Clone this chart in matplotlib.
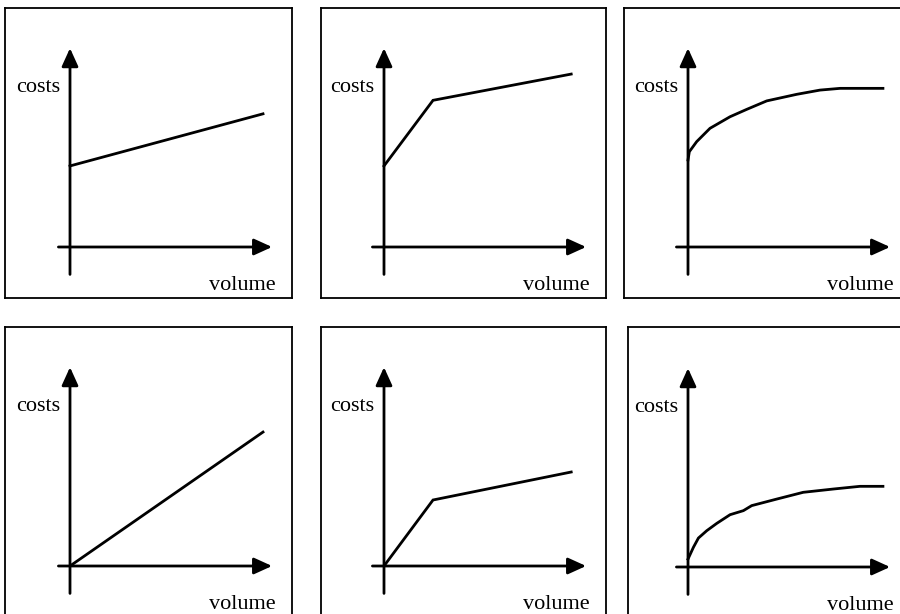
import matplotlib
matplotlib.use("Agg")
import matplotlib.pyplot as plt

# ---- data (volume, costs) in arbitrary units ----
p1_volume = [0.0, 10.0]
p1_costs = [4.2, 6.9]

p2_volume = [0.0, 2.54, 9.7]
p2_costs = [4.2, 7.6, 8.96]

p3_volume = [0.0, 0.07, 0.45, 1.14, 2.18, 3.04, 4.08, 5.63, 6.84, 7.88, 10.1]
p3_costs = [4.51, 4.94, 5.46, 6.15, 6.75, 7.13, 7.57, 7.91, 8.13, 8.22, 8.22]

p4_volume = [0.0, 10.0]
p4_costs = [0.0, 6.94]

p5_volume = [0.0, 2.54, 9.7]
p5_costs = [0.0, 3.42, 4.87]

p6_volume = [0.0, 0.28, 0.54, 0.97, 1.49, 2.18, 2.87, 3.30, 4.60, 5.97, 7.53, 8.91, 10.1]
p6_costs = [0.41, 1.02, 1.50, 1.88, 2.26, 2.71, 2.92, 3.18, 3.52, 3.87, 4.04, 4.18, 4.18]

y_label = "costs"
x_label = "volume"

series = [
    (p1_volume, p1_costs),
    (p2_volume, p2_costs),
    (p3_volume, p3_costs),
    (p4_volume, p4_costs),
    (p5_volume, p5_costs),
    (p6_volume, p6_costs),
]

# ---- layout (pixels) ----
W, H = 900, 614
S = 19.3  # pixels per data unit
# panel border rectangles (left, right, top, bottom) and origin pixel
panels = [
    ((5, 292, 8, 298), (70, 247)),
    ((321, 606, 8, 298), (384, 247)),
    ((624, 915, 8, 298), (688, 247)),
    ((5, 292, 327, 630), (70, 566)),
    ((321, 606, 327, 630), (384, 566)),
    ((628, 915, 327, 630), (688, 567)),
]

plt.rcParams['font.family'] = ['Liberation Serif', 'DejaVu Serif']

fig = plt.figure(figsize=(W / 100, H / 100), dpi=100)

for (vol, cost), ((L, R, T, B), (ox, oy)) in zip(series, panels):
    ax = fig.add_axes([L / W, 1 - B / H, (R - L) / W, (B - T) / H])
    ax.set_xlim((L - ox) / S, (R - ox) / S)
    ax.set_ylim((oy - B) / S, (oy - T) / S)
    ax.set_xticks([])
    ax.set_yticks([])
    for sp in ax.spines.values():
        sp.set_linewidth(1.3)
        sp.set_color('black')
    ax.patch.set_alpha(0)

    # axes with arrows
    y_lo, y_tip = -1.42, 10.3
    x_lo, x_tip = -0.6, 10.47
    arrow = dict(arrowstyle='-|>,head_length=1.1,head_width=0.5', mutation_scale=10,
                 lw=2, color='black', shrinkA=0, shrinkB=0)
    ax.annotate('', xy=(0, y_tip), xytext=(0, y_lo), arrowprops=arrow)
    ax.annotate('', xy=(x_tip, 0), xytext=(x_lo, 0), arrowprops=arrow)

    ax.plot(vol, cost, color='black', lw=2, solid_joinstyle='miter')

    ax.text(-0.5, 8.25, y_label, ha='right', va='center', fontsize=16)
    ax.text(x_tip + 0.2, -2.0, x_label, ha='right', va='center', fontsize=16)

fig.savefig("out.png", dpi=100)
